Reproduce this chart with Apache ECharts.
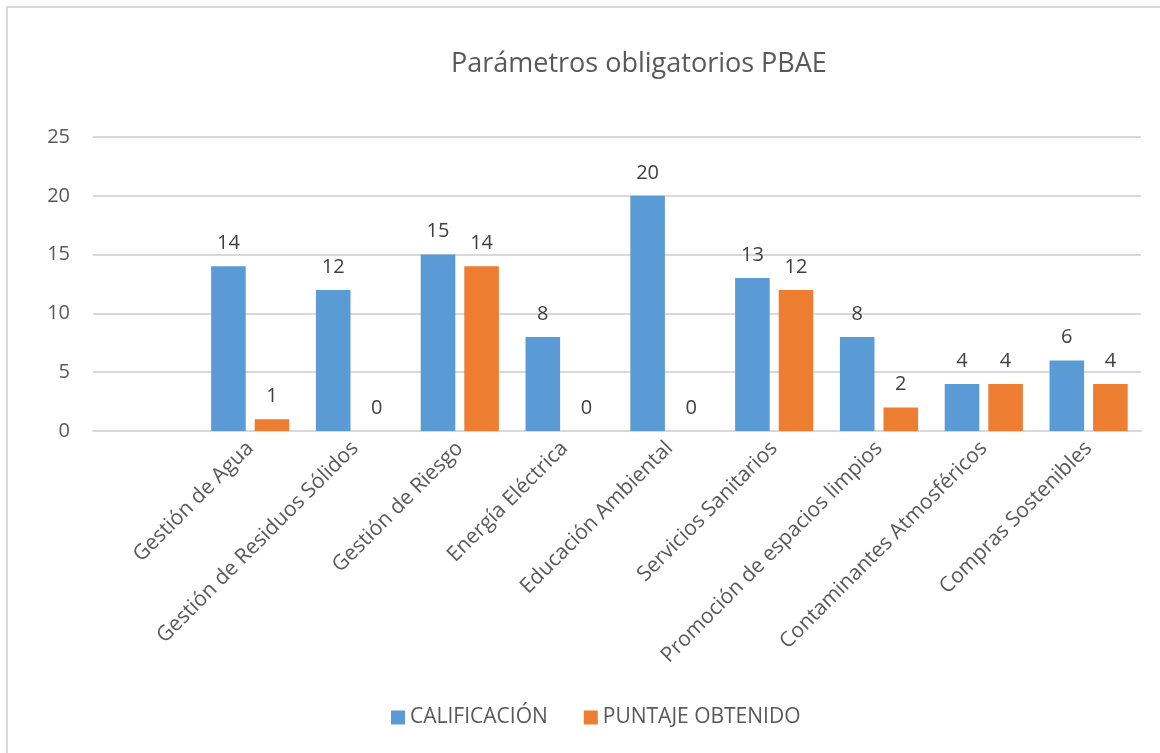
<!DOCTYPE html>
<html>
<head>
<meta charset="utf-8">
<script src="https://cdn.jsdelivr.net/npm/echarts@6/dist/echarts.min.js"></script>
<style>
    html, body { margin: 0; padding: 0; background: #fff; }
    #chart { position: absolute; left: 0; top: 0; width: 1160px; height: 753px; }
    #frame { position: absolute; left: 6px; top: 6px; width: 1200px; height: 800px;
             border-left: 2px solid #d9d9d9; border-top: 2px solid #d9d9d9; pointer-events: none; }
</style>
</head>
<body>
<div id="chart"></div>
<div id="frame"></div>
<script>
// categorías (la primera queda vacía, como en el original)
var categories = ['', 'Gestión de Agua', 'Gestión de Residuos Sólidos', 'Gestión de Riesgo',
    'Energía Eléctrica', 'Educación Ambiental', 'Servicios Sanitarios',
    'Promoción de espacios limpios', 'Contaminantes Atmosféricos', 'Compras Sostenibles'];
var calificacion = [null, 14, 12, 15, 8, 20, 13, 8, 4, 6];
var puntaje = [null, 1, 0, 14, 0, 0, 12, 2, 4, 4];
var yTicks = [0, 5, 10, 15, 20, 25];

var font = '"Open Sans", sans-serif';
var chart = echarts.init(document.getElementById('chart'));

var labelStyle = {
    show: true,
    position: 'top',
    distance: 13,
    color: '#404040',
    fontSize: 20,
    fontFamily: font
};

var option = {
    animation: false,
    title: {
        text: 'Parámetros obligatorios PBAE',
        left: 446,
        top: 46,
        textStyle: { color: '#595959', fontSize: 27, fontWeight: 'normal', fontFamily: font }
    },
    legend: {
        bottom: 20,
        left: 386,
        itemWidth: 14,
        itemHeight: 14,
        itemGap: 36,
        icon: 'rect',
        textStyle: { color: '#595959', fontSize: 21, fontFamily: font },
        data: ['CALIFICACIÓN', 'PUNTAJE OBTENIDO']
    },
    grid: { left: 93, right: 19, top: 137, bottom: 322 },
    xAxis: {
        type: 'category',
        data: categories,
        axisTick: { show: false },
        axisLine: { lineStyle: { color: '#d9d9d9', width: 2 } },
        axisLabel: {
            interval: 0,
            rotate: 45,
            margin: 14,
            color: '#595959',
            fontSize: 21,
            fontFamily: font
        }
    },
    yAxis: {
        type: 'value',
        min: yTicks[0],
        max: yTicks[yTicks.length - 1],
        interval: 5,
        axisLine: { show: false },
        axisTick: { show: false },
        splitLine: { lineStyle: { color: '#d9d9d9', width: 2 } },
        axisLabel: { color: '#595959', fontSize: 20, fontFamily: font, margin: 23 }
    },
    series: [
        {
            name: 'CALIFICACIÓN',
            type: 'bar',
            data: calificacion,
            barWidth: '33%',
            barGap: '26%',
            itemStyle: { color: '#5B9BD5' },
            label: labelStyle
        },
        {
            name: 'PUNTAJE OBTENIDO',
            type: 'bar',
            data: puntaje,
            barWidth: '33%',
            itemStyle: { color: '#ED7D31' },
            label: labelStyle
        }
    ]
};

chart.setOption(option);
</script>
</body>
</html>
